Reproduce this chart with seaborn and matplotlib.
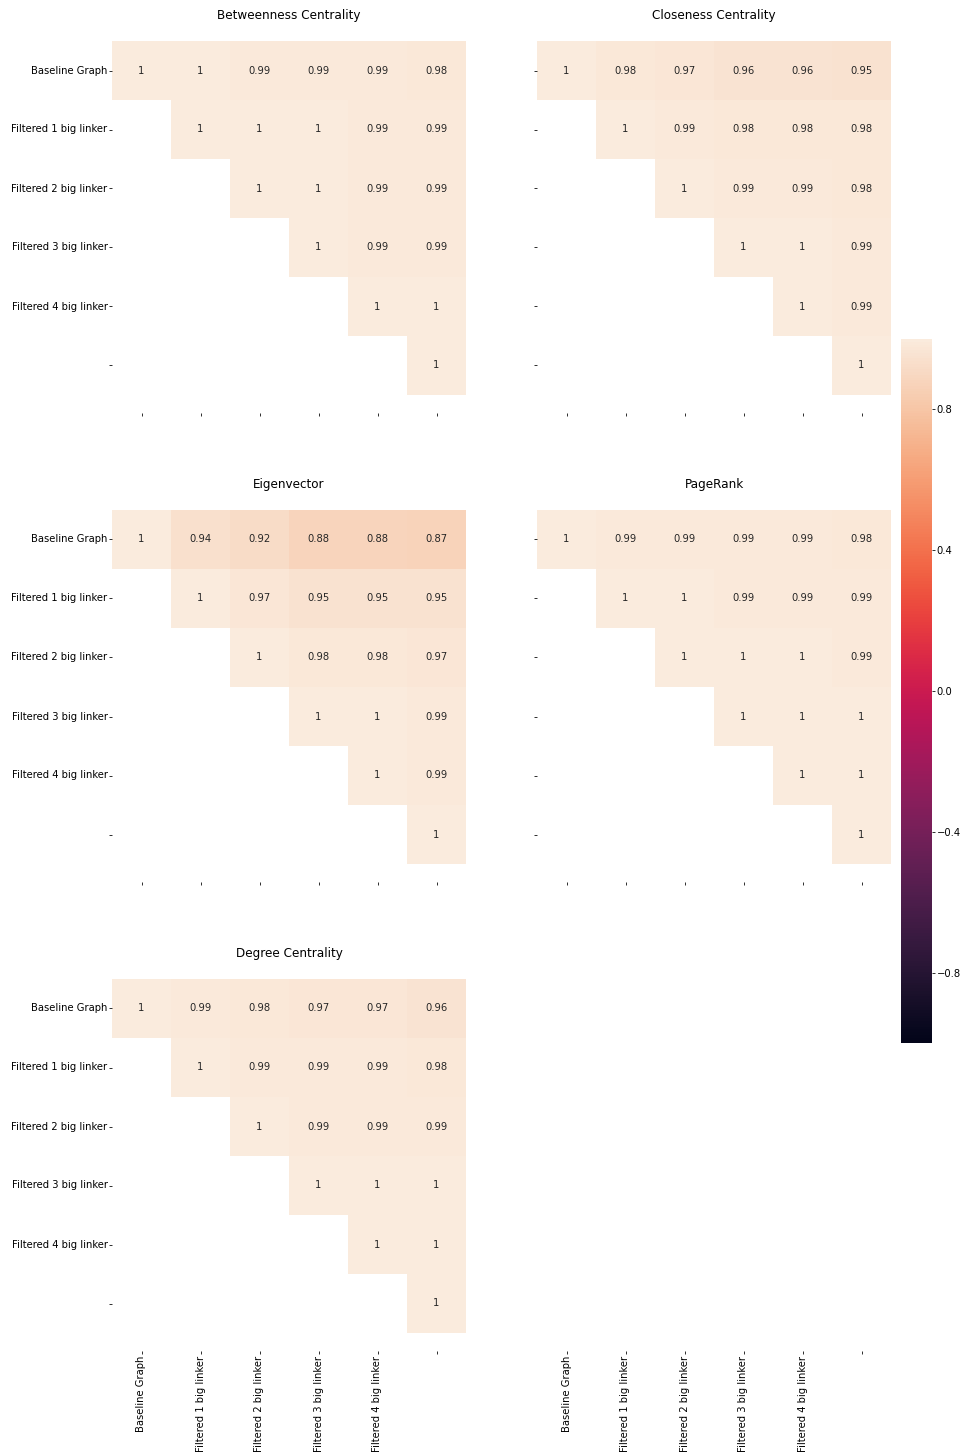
import numpy as np
import pandas as pd
import matplotlib
matplotlib.use("Agg")
import matplotlib.pyplot as plt
import seaborn as sns

nan = np.nan

# Graph variants compared in every correlation matrix (last slot is unlabeled)
labels = ["Baseline Graph", "Filtered 1 big linker", "Filtered 2 big linker",
          "Filtered 3 big linker", "Filtered 4 big linker", ""]

# Upper-triangular correlation matrices (NaN = masked lower triangle)
betweenness = [
    [1, 1, 0.99, 0.99, 0.99, 0.98],
    [nan, 1, 1, 1, 0.99, 0.99],
    [nan, nan, 1, 1, 0.99, 0.99],
    [nan, nan, nan, 1, 0.99, 0.99],
    [nan, nan, nan, nan, 1, 1],
    [nan, nan, nan, nan, nan, 1],
]
closeness = [
    [1, 0.98, 0.97, 0.96, 0.96, 0.95],
    [nan, 1, 0.99, 0.98, 0.98, 0.98],
    [nan, nan, 1, 0.99, 0.99, 0.98],
    [nan, nan, nan, 1, 1, 0.99],
    [nan, nan, nan, nan, 1, 0.99],
    [nan, nan, nan, nan, nan, 1],
]
eigenvector = [
    [1, 0.94, 0.92, 0.88, 0.88, 0.87],
    [nan, 1, 0.97, 0.95, 0.95, 0.95],
    [nan, nan, 1, 0.98, 0.98, 0.97],
    [nan, nan, nan, 1, 1, 0.99],
    [nan, nan, nan, nan, 1, 0.99],
    [nan, nan, nan, nan, nan, 1],
]
pagerank = [
    [1, 0.99, 0.99, 0.99, 0.99, 0.98],
    [nan, 1, 1, 0.99, 0.99, 0.99],
    [nan, nan, 1, 1, 1, 0.99],
    [nan, nan, nan, 1, 1, 1],
    [nan, nan, nan, nan, 1, 1],
    [nan, nan, nan, nan, nan, 1],
]
degree = [
    [1, 0.99, 0.98, 0.97, 0.97, 0.96],
    [nan, 1, 0.99, 0.99, 0.99, 0.98],
    [nan, nan, 1, 0.99, 0.99, 0.99],
    [nan, nan, nan, 1, 1, 1],
    [nan, nan, nan, nan, 1, 1],
    [nan, nan, nan, nan, nan, 1],
]

titles = ["Betweenness Centrality", "Closeness Centrality", "Eigenvector",
          "PageRank", "Degree Centrality"]
matrices = [betweenness, closeness, eigenvector, pagerank, degree]
cbar_ticks = [0.8, 0.4, 0.0, -0.4, -0.8]

plt.rcParams["xtick.major.pad"] = 1.5
plt.rcParams["ytick.major.pad"] = 1.5
plt.rcParams["xtick.major.size"] = 3
plt.rcParams["ytick.major.size"] = 3

W, H = 963, 1453
fig = plt.figure(figsize=(W / 72, H / 72), dpi=72)

# Panel boxes in pixels: (left, top, width, height)
col_left = [112, 537]
row_top = [23, 492, 961]
box_w, box_h = 354, 390


def box(px_left, px_top, px_w, px_h):
    return [px_left / W, 1 - (px_top + px_h) / H, px_w / W, px_h / H]


cax = fig.add_axes(box(901, 339, 31, 704))

n = len(labels)
pad = (n * box_h / box_w - n) / 2

for i, (mat, title) in enumerate(zip(matrices, titles)):
    r, c = divmod(i, 2)
    ax = fig.add_axes(box(col_left[c], row_top[r], box_w, box_h))
    df = pd.DataFrame(mat, index=labels, columns=labels)
    first = i == 0
    xl = labels if r == 2 else [""] * n
    yl = labels if c == 0 else [""] * n
    sns.heatmap(df, ax=ax, vmin=-1, vmax=1, annot=True,
                cbar=first, cbar_ax=cax if first else None,
                cbar_kws={"ticks": cbar_ticks} if first else None,
                xticklabels=xl, yticklabels=yl)
    ax.set_ylim(n + pad, -pad)
    ax.set_title(title, fontsize=12, pad=4)
    plt.setp(ax.get_yticklabels(), rotation=0, va="center")
    plt.setp(ax.get_xticklabels(), rotation=90)

# Empty bottom-right panel keeps the column's x labels
ax = fig.add_axes(box(col_left[1], row_top[2], box_w, box_h))
ax.set_xlim(0, n)
ax.set_xticks(np.arange(n) + 0.5)
ax.set_xticklabels(labels, rotation=90)
ax.set_yticks([])
for s in ax.spines.values():
    s.set_visible(False)

fig.savefig("out.png", dpi=72)
